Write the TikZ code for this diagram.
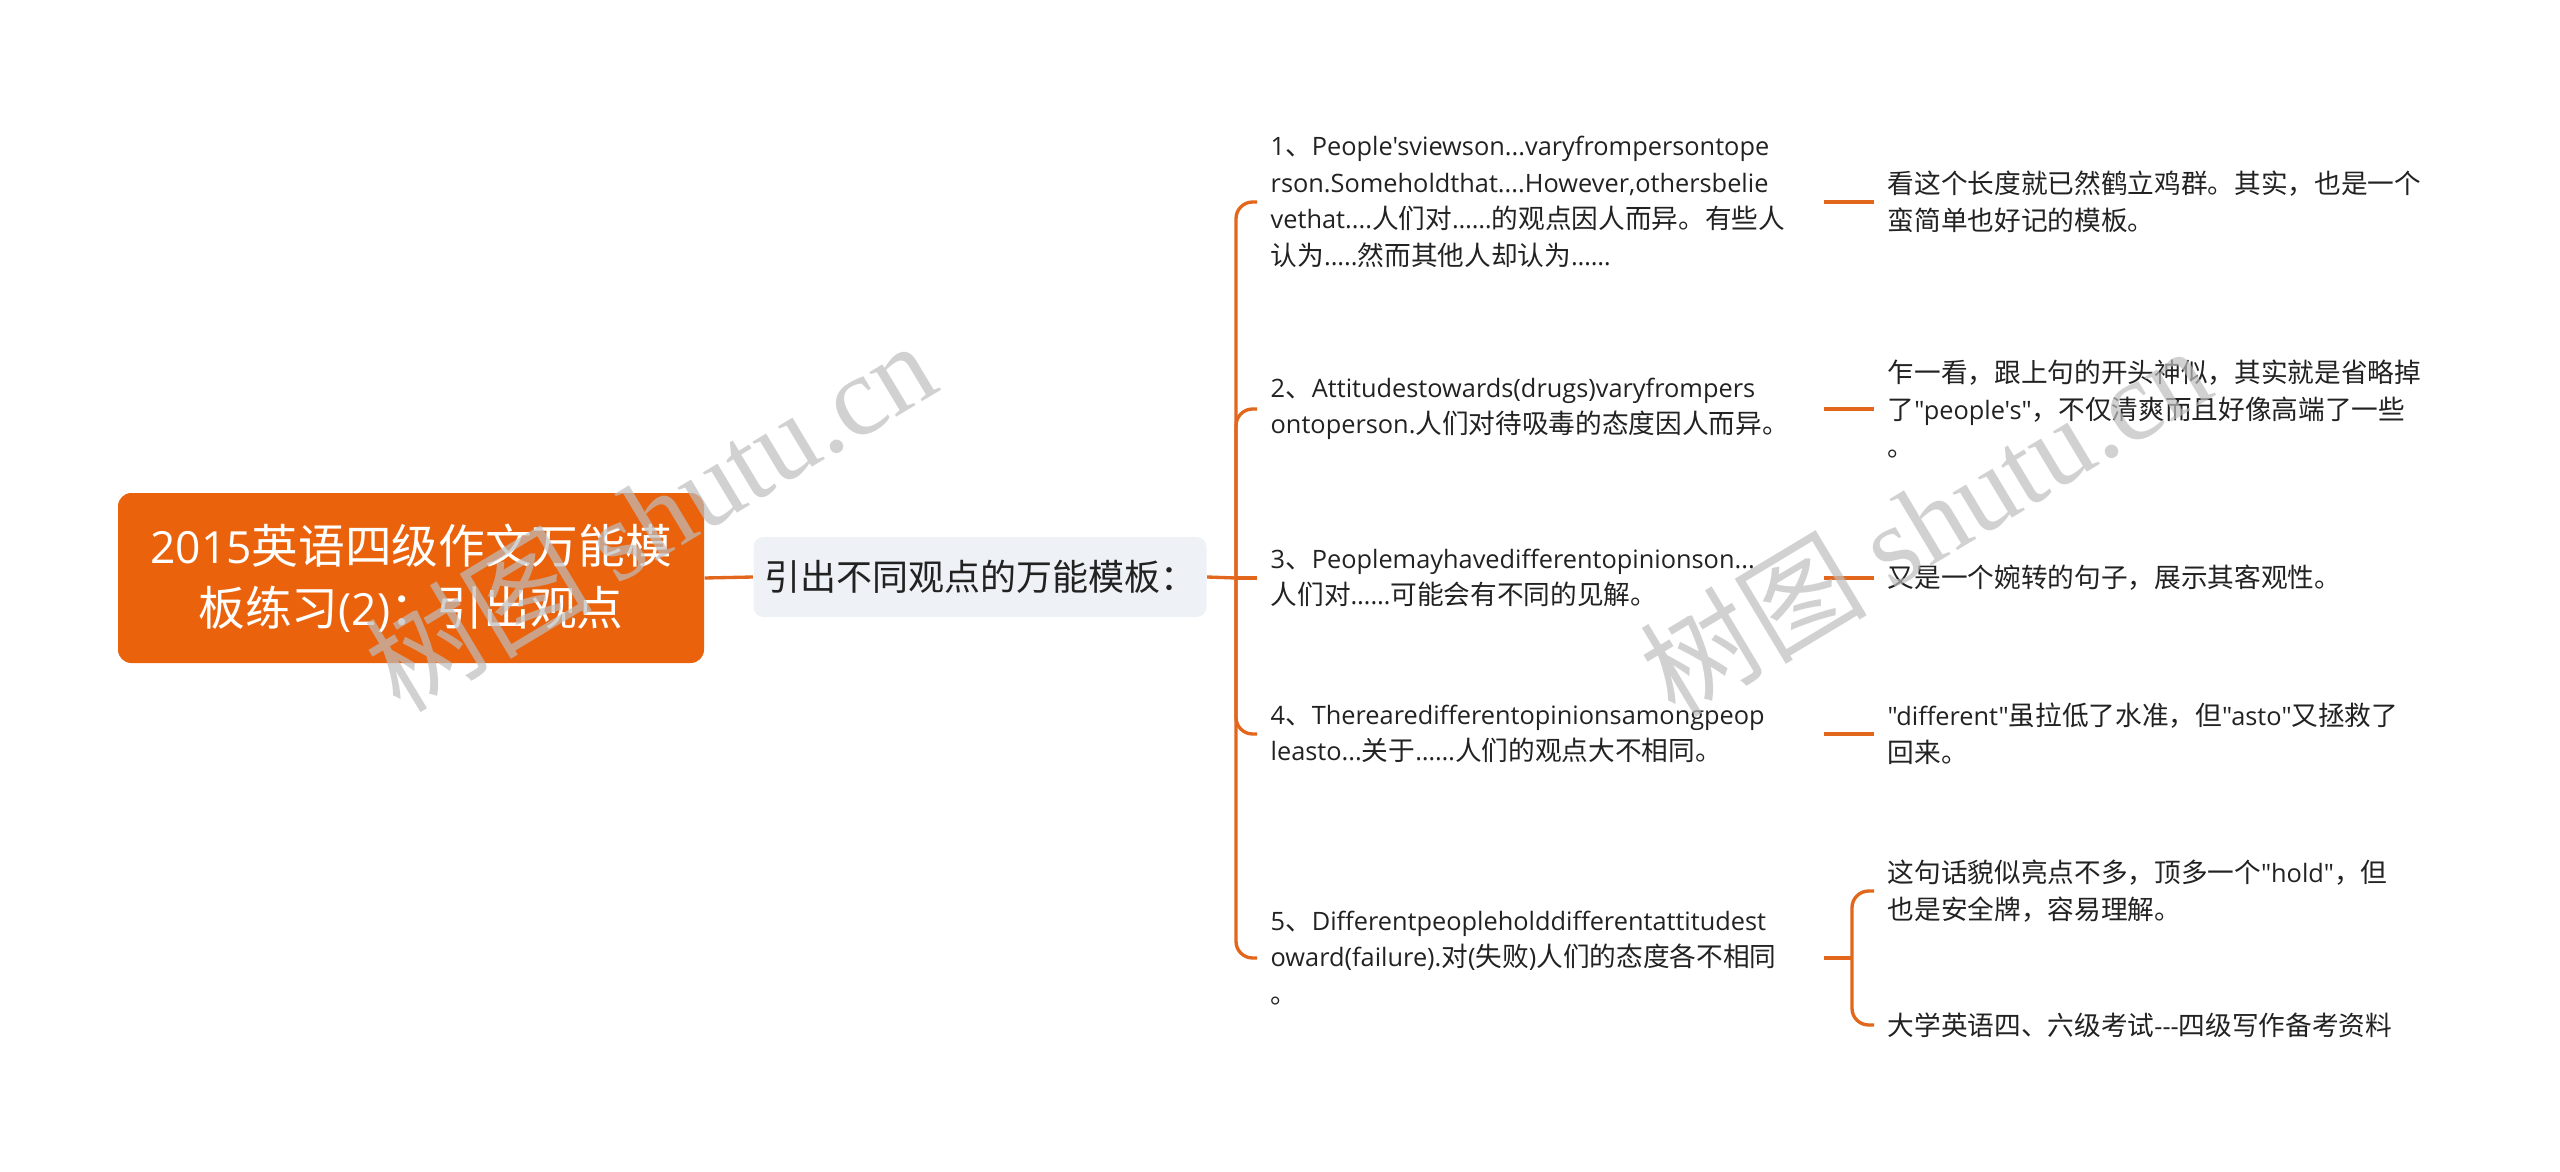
\documentclass[tikz,border=0pt]{standalone}
\usepackage{fontspec}
\setmainfont{Open Sans}[Ligatures=TeXOff,Scale=0.95]
\newfontfamily\cjkfont{Noto Sans CJK SC}
\newfontfamily\wmserif{Liberation Serif}
\def\latinfont{\rmfamily}
\XeTeXinterchartokenstate=1
\newXeTeXintercharclass\CJKcls
\count255="3000
\loop \XeTeXcharclass\count255=\CJKcls \advance\count255 by 1 \ifnum\count255<"3040 \repeat
\count255="4E00
\loop \XeTeXcharclass\count255=\CJKcls \advance\count255 by 1 \ifnum\count255<"A000 \repeat
\count255="FF00
\loop \XeTeXcharclass\count255=\CJKcls \advance\count255 by 1 \ifnum\count255<"FFF0 \repeat
\XeTeXinterchartoks 0 \CJKcls = {\cjkfont}
\XeTeXinterchartoks 4095 \CJKcls = {\cjkfont}
\XeTeXinterchartoks \CJKcls 0 = {\latinfont}
\XeTeXinterchartoks 4095 0 = {\latinfont}
\definecolor{rootc}{HTML}{EA620B}
\definecolor{linec}{HTML}{E2671C}
\definecolor{subc}{HTML}{EEF1F5}
\definecolor{txtc}{HTML}{222222}
\definecolor{wmc}{HTML}{BEBEBE}
\tikzset{
  conn/.style={draw=linec, line width=1pt, rounded corners=5pt},
  rootbox/.style={fill=rootc, rounded corners=4pt, text=white, align=center,
    minimum width=175.8pt, minimum height=51pt, inner sep=0pt,
    font=\fontsize{14}{18.5}\selectfont},
  subbox/.style={fill=subc, rounded corners=3pt, text=txtc, align=center,
    minimum width=135.9pt, minimum height=24pt, inner sep=0pt,
    font=\fontsize{10.8}{13}\selectfont},
  itembox/.style={anchor=west, inner xsep=3.9pt, inner ysep=0pt, text width=162pt,
    align=left, text=txtc, font=\fontsize{8}{11}\selectfont},
  notebox/.style={itembox, text width=168pt},
  wmark/.style={text=wmc, opacity=0.7, rotate=31, inner sep=0pt,
    font=\fontsize{34}{34}\selectfont\def\latinfont{\wmserif}\wmserif}
}
\begin{document}
\begin{tikzpicture}[x=0.3pt,y=-0.3pt]
\useasboundingbox (0,0) rectangle (2560,1172);
\fill[white] (0,0) rectangle (2560,1172);
\node[rootbox] (root) at (411,578) {2015英语四级作文万能模\\板练习(2)：引出观点};
\node[subbox] (sub) at (980,577) {引出不同观点的万能模板：};
\coordinate (hub) at (1236,578);
\node[itembox] (i1) at (1257,202) {1、People'sviewson...varyfrompersontope\\rson.Someholdthat....However,othersbelie\\vethat....人们对……的观点因人而异。有些人\\认为.....然而其他人却认为……};
\node[itembox] (i2) at (1257,409) {2、Attitudestowards(drugs)varyfrompers\\ontoperson.人们对待吸毒的态度因人而异。};
\node[itembox] (i3) at (1257,578) {3、Peoplemayhavedifferentopinionson...\\人们对……可能会有不同的见解。};
\node[itembox] (i4) at (1257,734) {4、Therearedifferentopinionsamongpeop\\leasto...关于……人们的观点大不相同。};
\node[itembox] (i5) at (1257,958) {5、Differentpeopleholddifferentattitudest\\oward(failure).对(失败)人们的态度各不相同\\。};
\node[notebox] (n1) at (1874,202) {看这个长度就已然鹤立鸡群。其实，也是一个\\蛮简单也好记的模板。};
\node[notebox] (n2) at (1874,409) {乍一看，跟上句的开头神似，其实就是省略掉\\了"people's"，不仅清爽而且好像高端了一些\\。};
\node[notebox] (n3) at (1874,578) {又是一个婉转的句子，展示其客观性。};
\node[notebox] (n4) at (1874,734) {"different"虽拉低了水准，但"asto"又拯救了\\回来。};
\node[notebox] (n5a) at (1874,891) {这句话貌似亮点不多，顶多一个"hold"，但\\也是安全牌，容易理解。};
\node[notebox] (n5b) at (1874,1025) {大学英语四、六级考试---四级写作备考资料};
\coordinate (b5) at (1852,958);
\draw[conn] (root.east) -- (sub.west);
\draw[conn] (sub.east) -- (hub);
\draw[conn] (hub) |- (i1.west);
\draw[conn] (hub) |- (i2.west);
\draw[conn] (hub) -- (i3.west);
\draw[conn] (hub) |- (i4.west);
\draw[conn] (hub) |- (i5.west);
\draw[conn] (i1.east) -- (n1.west);
\draw[conn] (i2.east) -- (n2.west);
\draw[conn] (i3.east) -- (n3.west);
\draw[conn] (i4.east) -- (n4.west);
\draw[conn] (i5.east) -- (b5);
\draw[conn] (b5) |- (n5a.west);
\draw[conn] (b5) |- (n5b.west);
\node[wmark] (wm1) at (650,515) {树图 shutu.cn};
\node[wmark] (wm2) at (1925,520) {树图 shutu.cn};
\end{tikzpicture}
\end{document}
